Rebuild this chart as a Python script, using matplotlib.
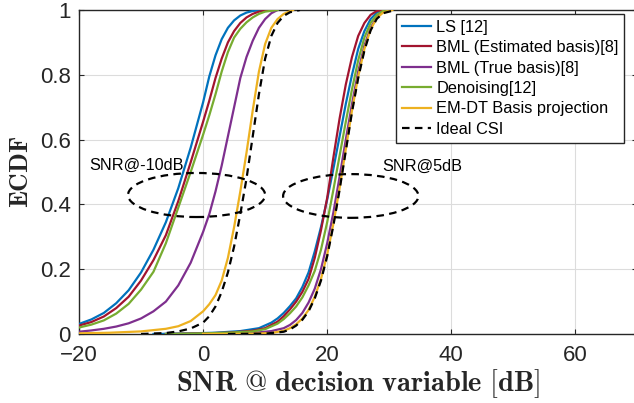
import matplotlib
matplotlib.use('Agg')
import matplotlib.pyplot as plt
from matplotlib.patches import Ellipse

plt.rcParams['font.family'] = ['Liberation Sans', 'DejaVu Sans']
plt.rcParams['mathtext.fontset'] = 'cm'

# MATLAB default colours
C_LS = '#0072BD'
C_BMLE = '#A2142F'
C_BMLT = '#7E2F8E'
C_DEN = '#77AC30'
C_EMDT = '#EDB120'
AX_COLOR = '#262626'

LABELS = ['LS [12]', 'BML (Estimated basis)[8]', 'BML (True basis)[8]',
          'Denoising[12]', 'EM-DT Basis projection', 'Ideal CSI']

# ---- SNR@-10dB group (ECDF points) ----
ls_lo_x = [-22, -20, -18, -16, -14, -12, -10, -8, -6, -4, -2, 0, 1, 2, 3, 4, 5, 6, 7, 8, 9.5]
ls_lo_y = [0.02, 0.031, 0.045, 0.065, 0.095, 0.135, 0.19, 0.26, 0.345, 0.45, 0.575,
           0.715, 0.795, 0.86, 0.91, 0.945, 0.968, 0.983, 0.992, 0.997, 1.0]

bmle_lo_x = [-22, -20, -18, -16, -14, -12, -10, -8, -6, -4, -2, 0, 1, 2, 3, 4, 5, 6, 7, 8, 9, 11]
bmle_lo_y = [0.017, 0.026, 0.037, 0.054, 0.08, 0.115, 0.165, 0.228, 0.305, 0.41, 0.53,
             0.655, 0.72, 0.79, 0.85, 0.9, 0.935, 0.96, 0.977, 0.988, 0.995, 1.0]

bmlt_lo_x = [-22, -20, -18, -16, -14, -12, -10, -8, -6, -4, -2, 0, 1, 2, 3, 4, 5, 6, 7, 8, 9, 10, 11, 12]
bmlt_lo_y = [0.004, 0.007, 0.011, 0.016, 0.023, 0.033, 0.048, 0.07, 0.1, 0.15, 0.22,
             0.315, 0.37, 0.44, 0.52, 0.61, 0.70, 0.79, 0.855, 0.905, 0.945, 0.972, 0.99, 1.0]

den_lo_x = [-22, -20, -18, -16, -14, -12, -10, -8, -6, -4, -2, 0, 1, 2, 3, 4, 5, 6, 7, 8, 9, 10, 12]
den_lo_y = [0.013, 0.02, 0.029, 0.042, 0.063, 0.093, 0.137, 0.192, 0.28, 0.39, 0.5,
            0.615, 0.675, 0.74, 0.81, 0.87, 0.915, 0.942, 0.962, 0.977, 0.988, 0.995, 1.0]

emdt_lo_x = [-22, -20, -15, -10, -6, -4, -2, 0, 1, 2, 3, 4, 5, 6, 7, 8, 9, 10, 11, 12, 13, 14.5]
emdt_lo_y = [0.001, 0.002, 0.004, 0.008, 0.016, 0.024, 0.04, 0.07, 0.092, 0.12, 0.165,
             0.235, 0.33, 0.44, 0.56, 0.69, 0.81, 0.895, 0.945, 0.972, 0.988, 1.0]

ideal_lo_x = [-10, -6, -4, -2, 0, 1, 2, 3, 4, 5, 6, 7, 8, 9, 10, 11, 12, 13, 14, 15.6]
ideal_lo_y = [0.0, 0.003, 0.008, 0.017, 0.035, 0.055, 0.085, 0.13, 0.19, 0.27, 0.37,
              0.48, 0.61, 0.74, 0.85, 0.92, 0.96, 0.982, 0.993, 1.0]

# ---- SNR@5dB group ----
ls_hi_x = [-8, -2, 2, 6, 9, 11, 12, 13, 14, 15, 16, 17, 18, 19, 20, 21, 22, 23, 24, 25, 26, 27, 28, 29]
ls_hi_y = [0.0, 0.002, 0.004, 0.009, 0.018, 0.035, 0.048, 0.065, 0.086, 0.11, 0.145, 0.19,
           0.255, 0.33, 0.415, 0.51, 0.61, 0.71, 0.80, 0.88, 0.935, 0.972, 0.992, 1.0]

bmle_hi_x = [-6, 0, 4, 8, 10, 12, 13, 14, 15, 16, 17, 18, 19, 20, 21, 22, 23, 24, 25, 26, 27, 28, 29]
bmle_hi_y = [0.0, 0.002, 0.004, 0.01, 0.018, 0.038, 0.055, 0.076, 0.1, 0.13, 0.17, 0.235,
             0.32, 0.42, 0.545, 0.665, 0.77, 0.855, 0.92, 0.96, 0.985, 0.997, 1.0]

bmlt_hi_x = [-2, 5, 9, 11, 13, 14, 15, 16, 17, 18, 19, 20, 21, 22, 23, 24, 25, 26, 27, 28, 29, 30]
bmlt_hi_y = [0.0, 0.002, 0.005, 0.009, 0.018, 0.028, 0.043, 0.065, 0.097, 0.14, 0.2, 0.28,
             0.375, 0.485, 0.6, 0.71, 0.81, 0.89, 0.945, 0.978, 0.994, 1.0]

den_hi_x = [-6, 0, 4, 8, 10, 12, 13, 14, 15, 16, 17, 18, 19, 20, 21, 22, 23, 24, 25, 26, 27, 28, 29, 29.8]
den_hi_y = [0.0, 0.002, 0.004, 0.008, 0.015, 0.032, 0.046, 0.064, 0.085, 0.113, 0.15, 0.195,
            0.26, 0.345, 0.445, 0.55, 0.655, 0.755, 0.845, 0.915, 0.96, 0.985, 0.997, 1.0]

emdt_hi_x = [0, 8, 11, 13, 14, 15, 16, 17, 18, 19, 20, 21, 22, 23, 24, 25, 26, 27, 28, 29, 30.5]
emdt_hi_y = [0.0, 0.001, 0.003, 0.01, 0.018, 0.03, 0.048, 0.074, 0.115, 0.17, 0.245, 0.34,
             0.45, 0.57, 0.69, 0.795, 0.88, 0.94, 0.975, 0.992, 1.0]

ideal_hi_x = [4, 10, 13, 14, 15, 16, 17, 18, 19, 20, 21, 22, 23, 24, 25, 26, 27, 28, 29, 31]
ideal_hi_y = [0.0, 0.001, 0.007, 0.014, 0.026, 0.044, 0.07, 0.11, 0.165, 0.24, 0.335,
              0.445, 0.565, 0.685, 0.79, 0.875, 0.937, 0.973, 0.99, 1.0]

x_ticks = [-20, 0, 20, 40, 60]
y_ticks = [0, 0.2, 0.4, 0.6, 0.8, 1.0]
y_tick_labels = ['0', '0.2', '0.4', '0.6', '0.8', '1']

fig = plt.figure(figsize=(6.34, 4.03), dpi=100)
ax = fig.add_axes([79 / 634, 69 / 403, (637.4 - 79) / 634, 324 / 403])

lw = 1.6
dash = (0, (3.4, 2.4))
groups = [
    (ls_lo_x, ls_lo_y, ls_hi_x, ls_hi_y, C_LS, '-'),
    (bmle_lo_x, bmle_lo_y, bmle_hi_x, bmle_hi_y, C_BMLE, '-'),
    (bmlt_lo_x, bmlt_lo_y, bmlt_hi_x, bmlt_hi_y, C_BMLT, '-'),
    (den_lo_x, den_lo_y, den_hi_x, den_hi_y, C_DEN, '-'),
    (emdt_lo_x, emdt_lo_y, emdt_hi_x, emdt_hi_y, C_EMDT, '-'),
    (ideal_lo_x, ideal_lo_y, ideal_hi_x, ideal_hi_y, 'black', dash),
]
handles = []
for (xl, yl, xh, yh, col, ls), lab in zip(groups, LABELS):
    h, = ax.plot(xl, yl, color=col, lw=lw, ls=ls, label=lab, zorder=3)
    ax.plot(xh, yh, color=col, lw=lw, ls=ls, zorder=3)
    handles.append(h)

# annotation ellipses
ax.add_patch(Ellipse((-1.05, 0.429), 22.1, 0.136, fill=False, ec='black',
                     lw=1.6, ls=dash, zorder=4))
ax.add_patch(Ellipse((23.8, 0.426), 21.8, 0.135, fill=False, ec='black',
                     lw=1.6, ls=dash, zorder=4))
ax.text(-18.3, 0.52, 'SNR@-10dB', fontsize=11.7, va='center', ha='left', color='black')
ax.text(28.8, 0.518, 'SNR@5dB', fontsize=11.7, va='center', ha='left', color='black')

ax.set_xlim(-20, 70)
ax.set_ylim(0, 1)
ax.set_xticks(x_ticks)
ax.set_yticks(y_ticks)
ax.set_yticklabels(y_tick_labels)
ax.grid(True, color='#DCDCDC', lw=0.8)
ax.set_axisbelow(True)
ax.tick_params(direction='in', length=3.6, width=0.8, colors=AX_COLOR,
               labelsize=16, top=True, right=True)
ax.tick_params(axis='x', pad=8)
ax.tick_params(axis='y', pad=6)
for s in ax.spines.values():
    s.set_color(AX_COLOR)
    s.set_linewidth(1.0)

ax.set_xlabel(r'$\mathbf{SNR\ @\ decision\ variable\ [dB]}$', fontsize=20.5,
              color=AX_COLOR, labelpad=1)
ax.set_ylabel(r'$\mathbf{ECDF}$', fontsize=18.5, color=AX_COLOR, labelpad=5)

leg = fig.legend(handles=handles, loc='upper left',
                 bbox_to_anchor=(396 / 634, 1 - 14 / 403), fontsize=11.8,
                 labelspacing=0.33, handlelength=1.8, handletextpad=0.3,
                 borderpad=0.35, borderaxespad=0, fancybox=False, framealpha=1)
leg.get_frame().set_edgecolor(AX_COLOR)
leg.get_frame().set_linewidth(1.0)

fig.savefig('out.png', dpi=100)
